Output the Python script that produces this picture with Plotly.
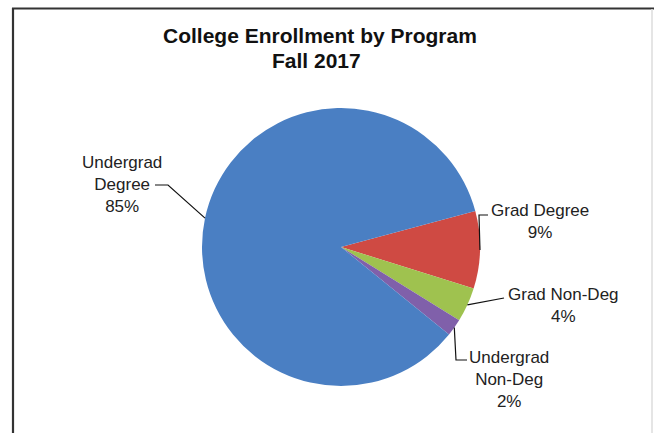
import math
import plotly.graph_objects as go

# ---- data ----
categories = ["Grad Degree", "Grad Non-Deg", "Undergrad Non-Deg", "Undergrad Degree"]
values = [9, 4, 2, 85]
label_texts = ["Grad Degree<br>9%", "Grad Non-Deg<br>4%", "Undergrad<br>Non-Deg<br>2%", "Undergrad<br>Degree<br>85%"]
colors = ["#cf4a43", "#9fc24f", "#8060aa", "#4a7fc3"]
title_lines = ["<b>College Enrollment by Program</b>", "<b>Fall 2017</b>"]

W, H = 654, 433
CX, CY, R = 341, 247, 139
ROTATION = 75  # degrees clockwise from 12 o'clock where first slice starts


def px(x):
    return x / W


def py(y):
    return 1 - y / H


fig = go.Figure(go.Pie(
    labels=categories,
    values=values,
    marker=dict(colors=colors, line=dict(width=0)),
    sort=False,
    direction="clockwise",
    rotation=ROTATION,
    textinfo="none",
    hoverinfo="label+percent",
    showlegend=False,
    domain=dict(x=[px(CX - R), px(CX + R)], y=[py(CY + R), py(CY - R)]),
))

# label placements (text centre, line-end elbow) in pixels
label_pos = [
    dict(tx=540, ty=221, elbow=[(479, 215), (488, 215)]),
    dict(tx=563, ty=305, elbow=[(504, 298)]),
    dict(tx=509, ty=379, elbow=[(456, 360), (467, 360)]),
    dict(tx=122, ty=184, elbow=[(168, 185), (155, 185)]),
]

total = sum(values)
start = 90 - ROTATION  # math angle in degrees
shapes = []
annotations = []
cum = 0
for i, v in enumerate(values):
    a0 = start - 360 * cum / total
    a1 = start - 360 * (cum + v) / total
    mid = math.radians((a0 + a1) / 2)
    cum += v
    ex = CX + R * math.cos(mid)
    ey = CY - R * math.sin(mid)
    pts = [(ex, ey)] + label_pos[i]["elbow"]
    path = "M " + " L ".join(f"{px(x):.5f},{py(y):.5f}" for x, y in pts)
    shapes.append(dict(type="path", xref="paper", yref="paper", path=path,
                       line=dict(color="#111111", width=1.2)))
    annotations.append(dict(
        x=px(label_pos[i]["tx"]), y=py(label_pos[i]["ty"]), xref="paper", yref="paper",
        text=label_texts[i], showarrow=False, align="center",
        xanchor="center", yanchor="middle",
        font=dict(family="Liberation Sans, Arial", size=17, color="#222222"),
    ))

# title (two lines)
for txt, (tx, ty) in zip(title_lines, [(319.5, 36), (316, 60)]):
    annotations.append(dict(
        x=px(tx), y=py(ty), xref="paper", yref="paper", text=txt,
        showarrow=False, align="center", xanchor="center", yanchor="middle",
        font=dict(family="Liberation Sans, Arial", size=21, color="#111111"),
    ))

# chart border (left/top visible)
shapes.append(dict(type="line", xref="paper", yref="paper", x0=px(13), x1=px(13), y0=py(8), y1=0,
                   line=dict(color="#333333", width=2.2)))
shapes.append(dict(type="line", xref="paper", yref="paper", x0=px(12), x1=1, y0=py(8.5), y1=py(8.5),
                   line=dict(color="#333333", width=2)))
shapes.append(dict(type="line", xref="paper", yref="paper", x0=px(652), x1=px(652), y0=py(9), y1=0,
                   line=dict(color="#dddddd", width=1.5)))

fig.update_layout(
    width=W, height=H,
    margin=dict(l=0, r=0, t=0, b=0),
    paper_bgcolor="white", plot_bgcolor="white",
    shapes=shapes, annotations=annotations,
)

fig.write_html("out.html", config={"displayModeBar": False},
               post_script="document.body.style.margin='0';document.body.style.padding='0';")
